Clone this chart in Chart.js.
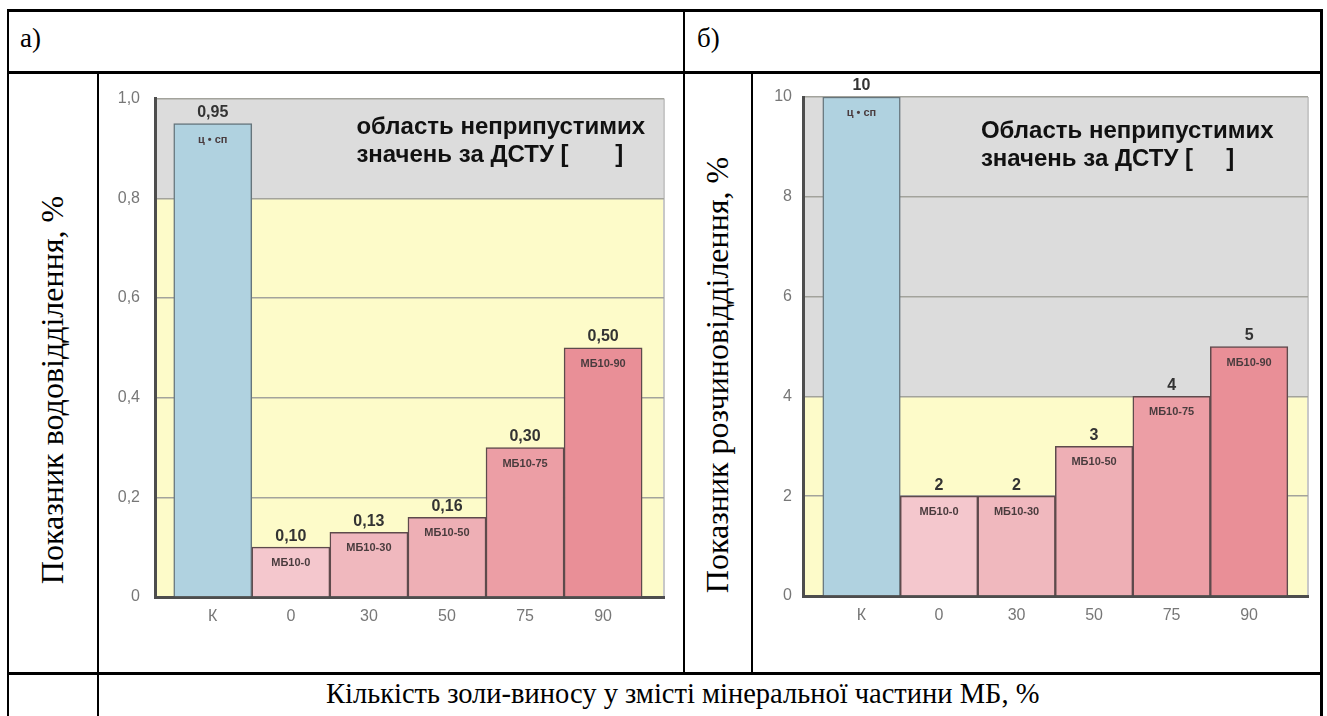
<!DOCTYPE html>
<html>
<head>
<meta charset="utf-8">
<script src="https://cdn.jsdelivr.net/npm/chart.js@4.4.1/dist/chart.umd.min.js"></script>
<style>
  html, body { margin: 0; padding: 0; background: #fff; }
  body { width: 1327px; height: 716px; position: relative; overflow: hidden; font-family: "Liberation Serif", "Times New Roman", serif; }
  .ln { position: absolute; background: #000; }
  .txt { position: absolute; color: #000; font-size: 27px; white-space: nowrap; }
  .rot { position: absolute; color: #000; font-size: 32px; white-space: nowrap; transform: translate(-50%, -50%) rotate(-90deg); }
  .box { position: absolute; }
</style>
</head>
<body>
<!-- таблиця -->
<div class="ln" style="left:7px; top:9px; width:1316px; height:3px;"></div>
<div class="ln" style="left:7px; top:9px; width:2px; height:707px;"></div>
<div class="ln" style="left:1320px; top:9px; width:3px; height:707px;"></div>
<div class="ln" style="left:7px; top:71px; width:1316px; height:3px;"></div>
<div class="ln" style="left:683px; top:9px; width:2px; height:664px;"></div>
<div class="ln" style="left:97px; top:72px; width:2px; height:644px;"></div>
<div class="ln" style="left:751px; top:72px; width:2px; height:601px;"></div>
<div class="ln" style="left:7px; top:672px; width:1316px; height:3px;"></div>

<div class="txt" style="left:20px; top:23px;">а)</div>
<div class="txt" style="left:697px; top:23px;">б)</div>
<div class="rot" style="left:52px; top:390px;">Показник водовідділення, %</div>
<div class="rot" style="left:717px; top:375px;">Показник розчиновідділення, %</div>
<div class="txt" style="left:326px; top:678px; font-size:28.5px;">Кількість золи-виносу у змісті мінеральної частини МБ, %</div>

<div class="box" style="left:99px; top:74px;"><canvas id="chartA" width="584" height="598"></canvas></div>
<div class="box" style="left:754px; top:74px;"><canvas id="chartB" width="566" height="598"></canvas></div>

<script>
// дані
const categories = ['К', '0', '30', '50', '75', '90'];
const barNames = ['ц • сп', 'МБ10-0', 'МБ10-30', 'МБ10-50', 'МБ10-75', 'МБ10-90'];
const waterValues = [0.95, 0.10, 0.13, 0.16, 0.30, 0.50];
const solutionValues = [10, 2, 2, 3, 4, 5];
const waterLimit = 0.8;
const solutionLimit = 4;
const waterTicks = [0, 0.2, 0.4, 0.6, 0.8, 1.0];
const solutionTicks = [0, 2, 4, 6, 8, 10];

const barColors = ['#b0d2e0', '#f4c7cd', '#f0b8be', '#eeafb5', '#ec9ea5', '#e98f97'];
const barBorders = ['#66757c', '#5e4a4c', '#5e4a4c', '#5e4a4c', '#5e4a4c', '#5e4a4c'];

// фон: сіра зона (неприпустимі значення) і жовта зона
const zonesPlugin = {
    id: 'zones',
    beforeDraw(chart, args, opts) {
        const { ctx, chartArea: a, scales: { y } } = chart;
        const yLim = y.getPixelForValue(opts.limit);
        ctx.save();
        ctx.fillStyle = '#dcdcdc';
        ctx.fillRect(a.left, a.top, a.right - a.left, yLim - a.top);
        ctx.fillStyle = '#fdfbc9';
        ctx.fillRect(a.left, yLim, a.right - a.left, a.bottom - yLim);
        ctx.strokeStyle = '#c8c8c8';
        ctx.lineWidth = 2;
        ctx.beginPath();
        ctx.moveTo(a.right, a.top);
        ctx.lineTo(a.right, a.bottom);
        ctx.stroke();
        ctx.restore();
    }
};

// підписи над стовпцями, всередині стовпців і текст про ДСТУ
const barTextPlugin = {
    id: 'barText',
    afterDatasetsDraw(chart, args, opts) {
        const { ctx, scales: { x, y } } = chart;
        const meta = chart.getDatasetMeta(0);
        ctx.save();
        ctx.textAlign = 'center';
        meta.data.forEach((bar, i) => {
            ctx.fillStyle = '#333';
            ctx.font = 'bold 16px "Liberation Sans", Arial, sans-serif';
            ctx.textBaseline = 'middle';
            ctx.fillText(opts.valueText[i], bar.x, bar.y - 11);
            ctx.fillStyle = '#4a3c3e';
            ctx.font = 'bold 11px "Liberation Sans", Arial, sans-serif';
            ctx.fillText(barNames[i], bar.x, bar.y + 16);
        });
        ctx.fillStyle = '#111';
        ctx.textAlign = 'left';
        ctx.font = 'bold 24px "Liberation Sans", Arial, sans-serif';
        ctx.fillText(opts.note[0], x.getPixelForValue(opts.noteX), y.getPixelForValue(opts.noteY[0]));
        ctx.fillText(opts.note[1], x.getPixelForValue(opts.noteX), y.getPixelForValue(opts.noteY[1]));
        ctx.restore();
    }
};

function makeChart(canvasId, values, cfg) {
    const ctx = document.getElementById(canvasId).getContext('2d');
    return new Chart(ctx, {
        type: 'bar',
        data: {
            datasets: [{
                data: values.map((v, i) => ({ x: i, y: v })),
                backgroundColor: barColors,
                borderColor: barBorders,
                borderWidth: 1.5,
                borderSkipped: 'bottom',
                barPercentage: 1,
                categoryPercentage: 1
            }]
        },
        options: {
            responsive: false,
            animation: false,
            layout: { padding: cfg.padding },
            plugins: {
                legend: { display: false },
                tooltip: { enabled: false },
                zones: { limit: cfg.limit },
                barText: {
                    valueText: cfg.valueText,
                    note: cfg.note,
                    noteX: cfg.noteX,
                    noteY: cfg.noteY
                }
            },
            scales: {
                x: {
                    type: 'linear',
                    offset: false,
                    min: cfg.xMin,
                    max: cfg.xMax,
                    afterBuildTicks: (scale) => {
                        scale.ticks = categories.map((c, i) => ({ value: i }));
                    },
                    afterFit: (scale) => { scale.height = 40; },
                    grid: { display: false, drawTicks: false },
                    border: { display: true, color: '#4d4d4d', width: 3 },
                    ticks: {
                        padding: 10,
                        color: '#777',
                        font: { family: '"Liberation Sans", Arial, sans-serif', size: 16 },
                        autoSkip: false,
                        maxRotation: 0,
                        callback: (v) => categories[v]
                    }
                },
                y: {
                    min: 0,
                    max: cfg.yMax,
                    afterBuildTicks: (scale) => {
                        scale.ticks = cfg.yTicks.map(v => ({ value: v }));
                    },
                    afterFit: (scale) => { scale.width = cfg.yWidth; },
                    grid: {
                        drawTicks: false,
                        color: (c) => c.tick.value === 0 ? 'rgba(0,0,0,0)' : '#a3a39c',
                        lineWidth: 1.5
                    },
                    border: { display: true, color: '#4d4d4d', width: 3 },
                    ticks: {
                        padding: cfg.yPad,
                        color: '#777',
                        font: { family: '"Liberation Sans", Arial, sans-serif', size: 16 },
                        callback: cfg.yLabel
                    }
                }
            }
        },
        plugins: [zonesPlugin, barTextPlugin]
    });
}

makeChart('chartA', waterValues, {
    padding: { left: 6, right: 19, top: 18, bottom: 35 },
    yWidth: 50,
    yPad: 15,
    xMin: -0.74,
    xMax: 5.78,
    yMax: 1.0,
    yTicks: waterTicks,
    limit: waterLimit,
    yLabel: (v) => v === 0 ? '0' : v.toFixed(1).replace('.', ','),
    valueText: waterValues.map(v => v.toFixed(2).replace('.', ',')),
    note: ['область неприпустимих', 'значень за ДСТУ [       ]'],
    noteX: 1.84,
    noteY: [0.943, 0.887]
});

makeChart('chartB', solutionValues, {
    padding: { left: 5, right: 12, top: 23, bottom: 36 },
    yWidth: 44,
    yPad: 11,
    xMin: -0.755,
    xMax: 5.76,
    yMax: 10,
    yTicks: solutionTicks,
    limit: solutionLimit,
    yLabel: (v) => String(v),
    valueText: solutionValues.map(v => String(v)),
    note: ['Область неприпустимих', 'значень за ДСТУ [     ]'],
    noteX: 1.54,
    noteY: [9.32, 8.76]
});
</script>
</body>
</html>
